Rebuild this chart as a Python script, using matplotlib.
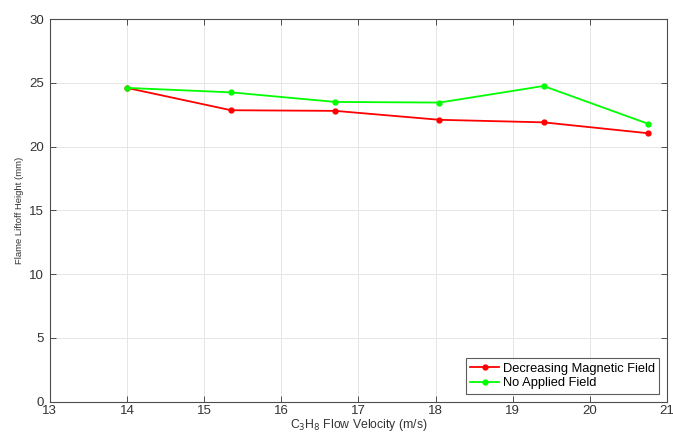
import matplotlib.pyplot as plt
import numpy as np

# C3H8 flow velocity (m/s)
velocity = [14.0, 15.35, 16.7, 18.05, 19.4, 20.75]
# flame liftoff height (mm)
height_decreasing = [24.6, 22.85, 22.8, 22.1, 21.9, 21.05]
height_no_field = [24.6, 24.25, 23.5, 23.45, 24.75, 21.8]

plt.rcParams['font.family'] = ['Liberation Sans', 'DejaVu Sans']

fig = plt.figure(figsize=(6.73, 4.32), dpi=100)
ax = fig.add_axes([0.074, 0.07, 0.917, 0.886])

ax.plot(velocity, height_decreasing, '-o', color='#ff0000', lw=1.3, ms=3.5,
        label='Decreasing Magnetic Field')
ax.plot(velocity, height_no_field, '-o', color='#00ff00', lw=1.3, ms=3.5,
        label='No Applied Field')

ax.set_xlim(13, 21)
ax.set_ylim(0, 30)
ax.set_xticks(np.arange(13, 22, 1))
ax.set_yticks(np.arange(0, 31, 5))

edge = '#4d4d4d'
for s in ax.spines.values():
    s.set_color(edge)
    s.set_linewidth(0.8)
ax.tick_params(direction='in', top=True, right=True, length=4, width=0.7,
               color=edge, labelcolor='#333333', labelsize=9.5)
ax.tick_params(axis='x', pad=2.5)
ax.tick_params(axis='y', pad=4)
ax.grid(True, color='#e6e6e6', lw=0.7)
ax.set_axisbelow(True)

ax.set_xlabel('C$_3$H$_8$ Flow Velocity (m/s)', fontsize=8.8, color='#333333',
              labelpad=-0.5)
ax.set_ylabel('Flame Liftoff Height (mm)', fontsize=6.8, color='#333333',
              labelpad=4)

leg = ax.legend(loc='lower right', fontsize=9.3, frameon=True, fancybox=False,
                edgecolor='#333333', borderpad=0.35, handlelength=2.2,
                handletextpad=0.3, labelspacing=0.2, borderaxespad=0.6)
leg.get_frame().set_linewidth(0.8)

fig.savefig('out.png', dpi=100)
